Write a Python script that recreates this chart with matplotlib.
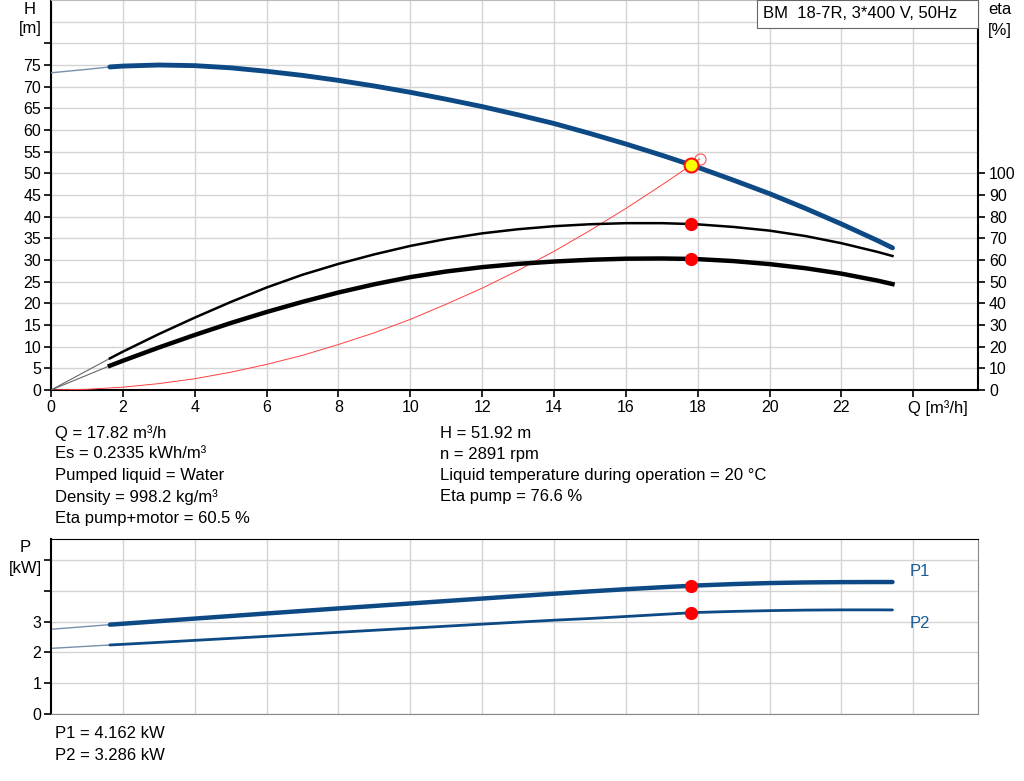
import matplotlib
matplotlib.use("Agg")
import matplotlib.pyplot as plt
from matplotlib.patches import Rectangle

plt.rcParams['font.family'] = ['Liberation Sans', 'DejaVu Sans']

# ---------------- data ----------------
title = "BM  18-7R, 3*400 V, 50Hz"

# pump head curve H(Q)
q_h_thin = [0.0, 1.0, 1.64]
h_thin = [73.2, 74.0, 74.55]
q_h = [1.64, 2, 3, 4, 5, 6, 7, 8, 9, 10, 11, 12, 13, 14, 15, 16, 17, 17.82, 18,
       19, 20, 21, 22, 23, 23.42]
h_vals = [74.55, 74.75, 75.0, 74.85, 74.35, 73.55, 72.6, 71.45, 70.15, 68.7, 67.1,
          65.4, 63.5, 61.5, 59.2, 56.77, 54.17, 51.92, 51.4, 48.4, 45.3, 41.9, 38.3,
          34.5, 32.8]

# efficiency curves (%)
q_eta = [1.64, 2, 3, 4, 5, 6, 7, 8, 9, 10, 11, 12, 13, 14, 15, 16, 17, 17.82, 18,
         19, 20, 21, 22, 23, 23.42]
eta_pump = [14.6, 17.7, 25.8, 33.4, 40.6, 47.3, 53.2, 58.2, 62.6, 66.5, 69.7, 72.3,
            74.2, 75.6, 76.5, 77.0, 77.0, 76.6, 76.45, 75.25, 73.55, 71.05, 67.75,
            63.75, 61.85]
eta_total = [11.2, 13.5, 19.6, 25.4, 30.9, 36.0, 40.7, 45.0, 48.8, 52.1, 54.7, 56.7,
             58.2, 59.3, 60.1, 60.6, 60.7, 60.5, 60.4, 59.5, 58.1, 56.2, 53.7, 50.5,
             48.9]
q_eta_thin = [0.0, 1.64]
eta_pump_thin = [0.0, 14.6]
eta_total_thin = [0.0, 11.2]

# system curve (m)
q_sys = [0, 1, 2, 3, 4, 5, 6, 7, 8, 9, 10, 11, 12, 13, 14, 15, 16, 17, 17.82, 18.05]
h_sys = [0.0, 0.16, 0.65, 1.47, 2.6, 4.1, 5.9, 8.0, 10.5, 13.2, 16.3, 19.8, 23.5,
         27.6, 32.0, 36.8, 41.9, 47.3, 51.92, 53.3]

# power curves (kW)
q_p_thin = [0.0, 1.64]
p1_thin = [2.75, 2.90]
p2_thin = [2.13, 2.24]
q_p = [1.64, 2, 3, 4, 5, 6, 7, 8, 9, 10, 11, 12, 13, 14, 15, 16, 17, 17.82, 18,
       19, 20, 21, 22, 23, 23.42]
p1_vals = [2.90, 2.93, 3.013, 3.097, 3.18, 3.263, 3.345, 3.427, 3.507, 3.587, 3.667,
           3.747, 3.827, 3.905, 3.98, 4.05, 4.114, 4.162, 4.172, 4.217, 4.25, 4.27,
           4.28, 4.283, 4.283]
p2_vals = [2.24, 2.262, 2.325, 2.39, 2.455, 2.52, 2.586, 2.652, 2.718, 2.784, 2.85,
           2.916, 2.981, 3.045, 3.10, 3.165, 3.232, 3.286, 3.296, 3.33, 3.355, 3.372,
           3.38, 3.38, 3.378]

# duty point
q_op = 17.82
h_op = 51.92
eta_pump_op = 76.6
eta_total_op = 60.5
p1_op = 4.162
p2_op = 3.286
q_sys_end = 18.05
h_sys_end = 53.3

x_ticks = [0, 2, 4, 6, 8, 10, 12, 14, 16, 18, 20, 22, 24]
x_labels = ["0", "2", "4", "6", "8", "10", "12", "14", "16", "18", "20", "22", ""]
h_ticks = [0, 5, 10, 15, 20, 25, 30, 35, 40, 45, 50, 55, 60, 65, 70, 75, 80]
h_labels = ["0", "5", "10", "15", "20", "25", "30", "35", "40", "45", "50", "55",
            "60", "65", "70", "75", ""]
eta_ticks = [0, 10, 20, 30, 40, 50, 60, 70, 80, 90, 100]
p_ticks = [0, 1, 2, 3, 4, 5]
p_labels = ["0", "1", "2", "3", "", ""]

info_left = ["Q = 17.82 m³/h", "Es = 0.2335 kWh/m³", "Pumped liquid = Water",
             "Density = 998.2 kg/m³", "Eta pump+motor = 60.5 %"]
info_right = ["H = 51.92 m", "n = 2891 rpm",
              "Liquid temperature during operation = 20 °C", "Eta pump = 76.6 %"]
info_power = ["P1 = 4.162 kW", "P2 = 3.286 kW"]

# ---------------- styling ----------------
W, H = 1024, 781
BLUE = "#0d4a85"
THINBLUE = "#7890aa"
GRID = "#d4d4d4"
FS = 12
TFS = 11.5

fig = plt.figure(figsize=(W / 100, H / 100), dpi=100)


def rect(l, t, r, b):
    return [l / W, (H - b) / H, (r - l) / W, (b - t) / H]


ax = fig.add_axes(rect(51, 0, 978, 390))
ax.set_xlim(0, 25.8)
ax.set_ylim(0, 90)
ax.set_xticks(x_ticks)
ax.set_xticklabels(x_labels, fontsize=TFS)
ax.set_yticks(h_ticks)
ax.set_yticklabels(h_labels, fontsize=TFS)
ax.set_yticks([85], minor=True)
ax.grid(True, which='both', color=GRID, lw=1)
ax.tick_params(which='minor', length=0)
ax.tick_params(axis='both', direction='out', length=5, width=1.2, pad=2)
ax.set_axisbelow(True)
for s in ['left', 'bottom', 'right']:
    ax.spines[s].set_color('black')
    ax.spines[s].set_linewidth(1.5)
ax.spines['top'].set_color('#bbbbbb')

# head
ax.plot(q_h_thin, h_thin, color=THINBLUE, lw=1, zorder=3)
ax.plot(q_h, h_vals, color=BLUE, lw=3.5, solid_capstyle='round', zorder=4)
# system curve
ax.plot(q_sys, h_sys, color='#ff4040', lw=0.7, zorder=3)
ax.plot([q_sys_end], [h_sys_end], 'o', ms=8, mfc='none', mec='#ff5050', mew=0.8, zorder=5)
ax.plot([q_op], [h_op], 'o', ms=10, mfc='#ffff00', mec='#ff1010', mew=1.5, zorder=6)

ax2 = ax.twinx()
ax2.set_ylim(0, 180)
ax2.set_yticks(eta_ticks)
ax2.set_yticklabels([str(t) for t in eta_ticks], fontsize=TFS)
ax2.tick_params(axis='y', direction='out', length=5, width=1.2, pad=3)
for s in ax2.spines.values():
    s.set_visible(False)
ax2.plot(q_eta_thin, eta_pump_thin, color='#666666', lw=0.8)
ax2.plot(q_eta_thin, eta_total_thin, color='#666666', lw=0.8)
ax2.plot(q_eta, eta_pump, color='black', lw=1.8)
ax2.plot(q_eta, eta_total, color='black', lw=3.2)
ax2.plot([q_op, q_op], [eta_pump_op, eta_total_op], 'o', ms=8.5, color='#ff0000', zorder=6)

# title box
fig.patches.append(Rectangle((757 / W, 1 - 28 / H), (978 - 757) / W, 28 / H,
                             transform=fig.transFigure, fc='white', ec='#666666',
                             lw=0.8, zorder=10))
fig.text(763 / W, 1 - 14 / H, title, fontsize=FS, va='center', ha='left', zorder=11)

fig.text(30 / W, 1 - 9 / H, "H", fontsize=FS, ha='center', va='center')
fig.text(30 / W, 1 - 29 / H, "[m]", fontsize=FS, ha='center', va='center')
fig.text(1000 / W, 1 - 10 / H, "eta", fontsize=FS, ha='center', va='center')
fig.text(1000 / W, 1 - 30 / H, "[%]", fontsize=FS, ha='center', va='center')
fig.text(908 / W, 1 - 408 / H, "Q [m³/h]", fontsize=FS, ha='left', va='center')

ys = [433, 454, 476, 497, 519]
for y, t in zip(ys, info_left):
    fig.text(55 / W, 1 - y / H, t, fontsize=FS, ha='left', va='center')
for y, t in zip(ys, info_right):
    fig.text(440 / W, 1 - y / H, t, fontsize=FS, ha='left', va='center')

# power panel
bx = fig.add_axes(rect(51, 539, 978, 714))
bx.set_xlim(0, 25.8)
bx.set_ylim(0, 5.68)
bx.set_xticks(x_ticks[1:])
bx.set_xticklabels([])
bx.tick_params(axis='x', length=0)
bx.set_yticks(p_ticks)
bx.set_yticklabels(p_labels, fontsize=TFS)
bx.tick_params(axis='y', direction='out', length=5, width=1.2, pad=2)
bx.grid(True, color=GRID, lw=1)
bx.set_axisbelow(True)
bx.spines['left'].set_color('black')
bx.spines['left'].set_linewidth(1.5)
bx.spines['top'].set_color('black')
bx.spines['right'].set_color('#888888')
bx.spines['bottom'].set_color('#888888')

bx.plot(q_p_thin, p1_thin, color=THINBLUE, lw=1)
bx.plot(q_p_thin, p2_thin, color=THINBLUE, lw=1)
bx.plot(q_p, p1_vals, color=BLUE, lw=3.2, solid_capstyle='round')
bx.plot(q_p, p2_vals, color=BLUE, lw=2.0, solid_capstyle='round')
bx.plot([q_op, q_op], [p1_op, p2_op], 'o', ms=8.5, color='#ff0000', zorder=6)

fig.text(910 / W, 1 - 571 / H, "P1", fontsize=FS, color='#1a5a96', ha='left', va='center')
fig.text(910 / W, 1 - 623 / H, "P2", fontsize=FS, color='#1a5a96', ha='left', va='center')
fig.text(25 / W, 1 - 548 / H, "P", fontsize=FS, ha='center', va='center')
fig.text(25 / W, 1 - 569 / H, "[kW]", fontsize=FS, ha='center', va='center')

for y, t in zip([733, 755], info_power):
    fig.text(55 / W, 1 - y / H, t, fontsize=FS, ha='left', va='center')

fig.savefig("out.png", dpi=100)
